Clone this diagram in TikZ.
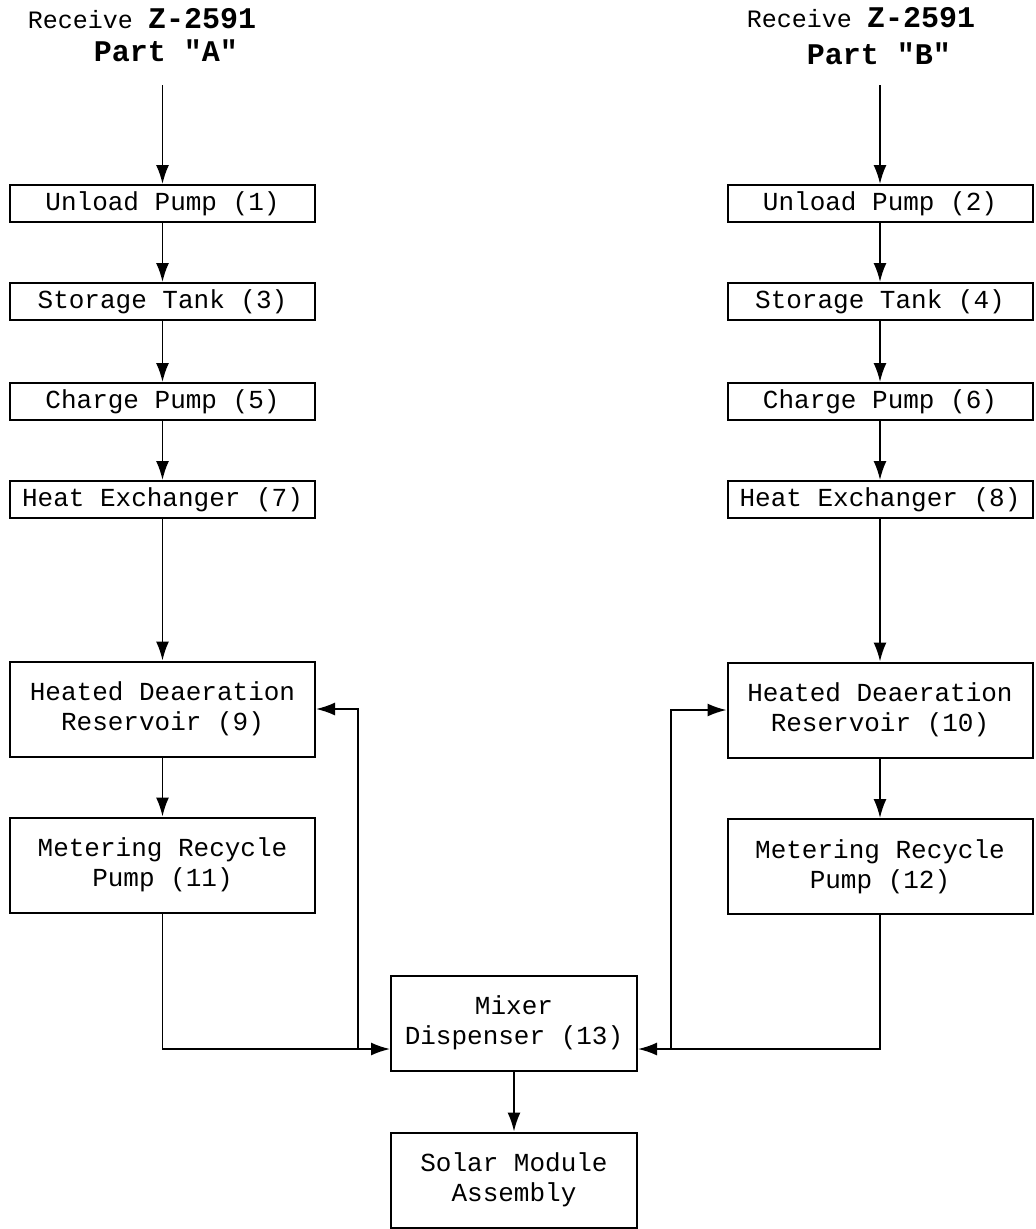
\documentclass[tikz,border=0pt]{standalone}
\usepackage{fontspec}
\setmonofont{Liberation Mono}
\usetikzlibrary{arrows.meta}
\newcommand{\headfont}{\fontsize{30}{30}\selectfont\bfseries}
\begin{document}
\begin{tikzpicture}[x=1pt,y=-1pt]
        \tikzstyle{block}=[draw=black,line width=2pt,minimum width=305pt,minimum height=37pt,inner sep=0pt,align=center,font=\ttfamily\fontsize{26}{30}\selectfont]
        \tikzstyle{tall}=[minimum height=95pt]
        \tikzstyle{small}=[minimum width=246pt]
        \tikzstyle{title}=[inner sep=0pt,anchor=base,font=\ttfamily\fontsize{25}{30}\selectfont]
        \tikzstyle{flow}=[draw,line width=1.8pt,-{Latex[length=19pt,width=13pt]}]
        \useasboundingbox (0,0) rectangle (1036,1229);
        \begin{scope}
           % part A
           \node [title] (ta1) at (142,28) {Receive {\headfont Z-2591}};
           \node [title] (ta2) at (166,61) {{\headfont Part "A"}};
           \coordinate (ina) at (162.5,85);
           \node [block] (u1) at (162.5,203.5) {Unload Pump (1)};
           \node [block] (s3) at (162.5,301.5) {Storage Tank (3)};
           \node [block] (c5) at (162.5,401.5) {Charge Pump (5)};
           \node [block] (h7) at (162.5,499.5) {Heat Exchanger (7)};
           \node [block,tall] (d9) at (162.5,709) {Heated Deaeration\\Reservoir (9)};
           \node [block,tall] (m11) at (162.5,865) {Metering Recycle\\Pump (11)};
           % part B
           \node [title] (tb1) at (861,27) {Receive {\headfont Z-2591}};
           \node [title] (tb2) at (879,64) {{\headfont Part "B"}};
           \coordinate (inb) at (880,85);
           \node [block] (u2) at (880,203.5) {Unload Pump (2)};
           \node [block] (s4) at (880,301.5) {Storage Tank (4)};
           \node [block] (c6) at (880,401.5) {Charge Pump (6)};
           \node [block] (h8) at (880,499.5) {Heat Exchanger (8)};
           \node [block,tall] (d10) at (880,710) {Heated Deaeration\\Reservoir (10)};
           \node [block,tall] (m12) at (880,866.5) {Metering Recycle\\Pump (12)};
           % mixing
           \node [block,tall,small] (mix) at (514,1023) {Mixer\\Dispenser (13)};
           \node [block,tall,small] (sol) at (514,1180) {Solar Module\\Assembly};
           \coordinate (ja) at (358,1049);
           \coordinate (jb) at (671,1049);
           % column A
           \path[flow] (ina) -- (ina |- u1.north);
           \path[flow] (u1) -- (s3);
           \path[flow] (s3) -- (c5);
           \path[flow] (c5) -- (h7);
           \path[flow] (h7) -- (d9);
           \path[flow] (d9) -- (m11);
           \path[flow] (m11.south) |- (ja) -- (mix.west |- ja);
           \path[flow] (ja) |- (d9.east);
           % column B
           \path[flow] (inb) -- (inb |- u2.north);
           \path[flow] (u2) -- (s4);
           \path[flow] (s4) -- (c6);
           \path[flow] (c6) -- (h8);
           \path[flow] (h8) -- (d10);
           \path[flow] (d10) -- (m12);
           \path[flow] (m12.south) |- (jb) -- (mix.east |- jb);
           \path[flow] (jb) |- (d10.west);
           % out
           \path[flow] (mix) -- (sol);
        \end{scope}
      \end{tikzpicture}
\end{document}
